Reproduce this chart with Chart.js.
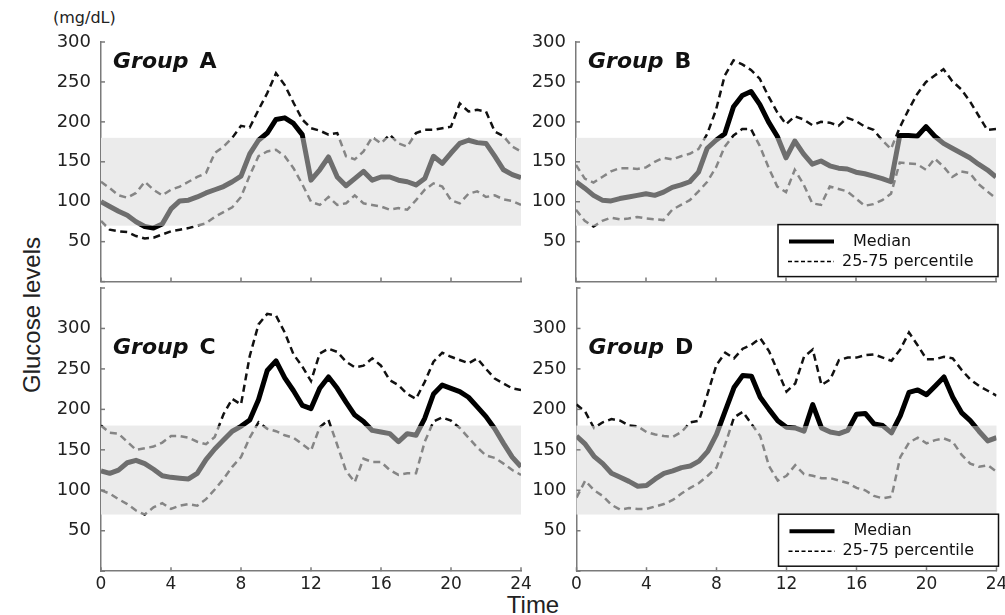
<!DOCTYPE html>
<html>
<head>
<meta charset="utf-8">
<script src="https://cdn.jsdelivr.net/npm/chart.js@4.4.1/dist/chart.umd.min.js"></script>
<style>
html,body{margin:0;padding:0;background:#fff;overflow:hidden;width:1005px;height:615px}
.p{position:absolute}
#unit{position:absolute;left:53px;top:8px;line-height:20px;font:16px "DejaVu Sans";color:#222}
#ylab{position:absolute;left:32px;top:315px;transform:translate(-50%,-50%) rotate(-90deg);font:24px "Liberation Sans";color:#222;white-space:nowrap}
#xlab{position:absolute;left:533px;top:591px;transform:translateX(-50%);font:24px "Liberation Sans";color:#222}
</style>
</head>
<body>
<div id="unit">(mg/dL)</div>
<div id="ylab">Glucose levels</div>
<div id="xlab">Time</div>
<div class="p" style="left:0;top:0;width:540px;height:288px"><canvas id="cA"></canvas></div>
<div class="p" style="left:470px;top:0;width:545px;height:288px"><canvas id="cB"></canvas></div>
<div class="p" style="left:0;top:280px;width:540px;height:315px"><canvas id="cC"></canvas></div>
<div class="p" style="left:470px;top:280px;width:545px;height:315px"><canvas id="cD"></canvas></div>
<script>
// --------- данные ---------
const HOURS=[0,0.5,1,1.5,2,2.5,3,3.5,4,4.5,5,5.5,6,6.5,7,7.5,8,8.5,9,9.5,10,10.5,11,11.5,12,
  12.5,13,13.5,14,14.5,15,15.5,16,16.5,17,17.5,18,18.5,19,19.5,20,20.5,21,21.5,22,22.5,23,23.5,24];
const X_TICKS=[0,4,8,12,16,20,24];
const Y_LABELS=[50,100,150,200,250,300];
const BAND_LO=70, BAND_HI=180;      // целевой диапазон

const A_MED=[100,94,88,83,75,69,67,72,91,101,102,106,111,115,119,125,132,160,177,186,203,205,198,184,127,140,156,131,120,129,138,127,131,131,127,125,121,129,157,148,161,173,177,174,173,157,140,134,130];
const A_HI =[125,117,108,105,111,125,115,108,115,119,125,131,136,161,169,180,195,193,215,236,261,246,224,203,192,189,184,186,157,153,163,181,173,184,173,169,186,190,190,192,194,223,213,215,213,188,182,169,163];
const A_LO =[76,65,63,62,57,54,55,59,63,65,67,70,73,81,87,93,106,133,157,163,165,157,142,122,100,96,106,96,98,108,98,96,94,90,92,90,102,115,123,119,102,98,110,113,106,108,103,101,96];

const B_MED=[125,117,108,102,101,104,106,108,110,108,112,118,121,125,137,167,177,185,219,233,238,222,200,182,155,176,160,147,151,145,142,141,137,135,132,129,125,183,183,182,194,182,173,167,161,155,147,140,131];
const B_HI =[146,129,124,131,138,142,142,141,143,150,155,153,157,160,166,185,215,258,277,272,265,254,232,212,197,207,203,196,200,199,195,205,201,194,190,177,166,193,215,235,250,258,266,251,241,226,208,190,191];
const B_LO =[90,76,69,76,80,78,79,81,79,78,77,90,96,102,113,125,143,169,183,191,191,170,143,119,112,140,122,98,96,119,116,113,104,95,97,102,110,149,148,147,140,154,144,131,138,136,122,113,104];

const C_MED=[124,121,125,134,137,133,126,118,116,115,114,121,138,151,162,173,179,187,212,248,260,239,223,205,201,226,240,226,209,193,185,174,172,170,160,170,168,189,219,230,226,222,215,203,191,176,158,141,129];
const C_HI =[180,171,170,160,150,152,154,159,167,167,165,160,157,166,194,213,206,266,305,318,316,295,268,253,235,269,275,271,259,252,254,263,254,236,230,219,213,234,259,270,265,261,257,263,250,238,232,226,224];
const C_LO =[100,96,89,83,75,70,79,84,77,81,83,81,89,101,114,129,141,165,184,176,173,168,165,157,149,178,187,156,124,110,139,135,135,125,119,121,121,160,185,190,186,177,165,153,143,140,133,125,119];

const D_MED=[167,157,142,133,121,116,111,105,106,114,121,124,128,130,136,148,169,198,227,242,241,215,200,186,178,177,173,206,177,172,170,174,194,195,182,180,171,192,221,224,218,229,240,215,196,186,173,161,165];
const D_HI =[206,197,177,184,188,186,180,179,172,169,167,166,172,184,186,220,255,270,263,275,280,288,272,247,222,232,265,274,230,237,261,264,264,267,268,264,260,274,295,279,262,262,265,263,249,237,229,223,217];
const D_LO =[91,112,100,93,82,76,78,77,77,80,83,88,96,103,109,118,128,157,190,197,182,167,130,112,118,131,120,118,115,115,112,109,103,100,93,90,92,141,159,165,158,162,164,160,144,133,129,131,123];

const LEG_MED='Median', LEG_PCT='25-75 percentile';

// --------- цвет линии: серый внутри диапазона, чёрный снаружи ---------
function bandColor(inC,outC){
  return function(ctx){
    const ch=ctx.chart, ca=ch.chartArea;
    if(!ca) return outC;
    const y=ch.scales.y;
    const f=p=>Math.min(1,Math.max(0,(p-ca.top)/(ca.bottom-ca.top)));
    const t=f(y.getPixelForValue(BAND_HI)), b=f(y.getPixelForValue(BAND_LO));
    const g=ch.ctx.createLinearGradient(0,ca.top,0,ca.bottom);
    g.addColorStop(0,outC); g.addColorStop(t,outC); g.addColorStop(t,inC);
    g.addColorStop(b,inC); g.addColorStop(b,outC); g.addColorStop(1,outC);
    return g;
  };
}

// --------- полоса, тики внутрь, подписи групп, легенда ---------
const decor={
  id:'decor',
  beforeDatasetsDraw(ch,args,o){
    const c=ch.ctx, x=ch.scales.x, y=ch.scales.y;
    const x0=x.getPixelForValue(0), x1=x.getPixelForValue(24);
    const y0=y.getPixelForValue(BAND_HI), y1=y.getPixelForValue(BAND_LO);
    c.save(); c.fillStyle='#ebebeb'; c.fillRect(x0,y0,x1-x0,y1-y0); c.restore();
  },
  afterDraw(ch,args,o){
    const c=ch.ctx, ca=ch.chartArea, x=ch.scales.x, y=ch.scales.y;
    c.save();
    c.strokeStyle='#7a7a7a'; c.lineWidth=1.5;
    x.ticks.forEach(t=>{const px=x.getPixelForValue(t.value);
      c.beginPath(); c.moveTo(px,ca.bottom); c.lineTo(px,ca.bottom-4); c.stroke();});
    y.ticks.forEach(t=>{const py=y.getPixelForValue(t.value);
      c.beginPath(); c.moveTo(ca.left,py); c.lineTo(ca.left+4,py); c.stroke();});
    // Group X
    const gy=y.getPixelForValue(268), gx=ca.left+12;
    c.fillStyle='#111'; c.textBaseline='alphabetic'; c.textAlign='left';
    c.font='italic bold 22px "DejaVu Sans"';
    c.fillText('Group',gx,gy);
    const w=c.measureText('Group').width;
    c.font='bold 22px "DejaVu Sans"';
    c.fillText(o.group,gx+w+11,gy);
    // легенда
    if(o.legend){
      const bl=ca.right-218, bt=ca.bottom-57, bw=220, bh=52;
      c.fillStyle='#fff'; c.fillRect(bl,bt,bw,bh);
      c.strokeStyle='#111'; c.lineWidth=1.5; c.strokeRect(bl,bt,bw,bh);
      c.strokeStyle='#000'; c.lineWidth=4;
      c.beginPath(); c.moveTo(bl+11,bt+17); c.lineTo(bl+56,bt+17); c.stroke();
      c.lineWidth=1.5; c.setLineDash([4,2.5]);
      c.beginPath(); c.moveTo(bl+10,bt+37); c.lineTo(bl+56,bt+37); c.stroke();
      c.setLineDash([]);
      c.fillStyle='#111'; c.font='16px "DejaVu Sans"'; c.textBaseline='middle';
      c.fillText(LEG_MED,bl+75,bt+17);
      c.fillText(LEG_PCT,bl+64,bt+37);
    }
    c.restore();
  }
};

// --------- панель ---------
function panel(id,group,med,hi,lo,yMax,showX,legend,yW,padR,padT,xH){
  const pts=arr=>HOURS.map((h,i)=>({x:h,y:arr[i]}));
  const dash={borderWidth:2.5,borderDash:[7,4.5],borderColor:bandColor('#858585','#111'),pointRadius:0,tension:0,fill:false};
  return new Chart(document.getElementById(id),{
    type:'line',
    data:{datasets:[
      {label:LEG_MED,data:pts(med),borderWidth:5,borderColor:bandColor('#6e6e6e','#000'),pointRadius:0,tension:0,fill:false,borderJoinStyle:'round'},
      Object.assign({label:'75',data:pts(hi)},dash),
      Object.assign({label:'25',data:pts(lo)},dash)
    ]},
    options:{
      responsive:true,maintainAspectRatio:false,animation:false,
      layout:{padding:{left:0,top:padT,right:padR,bottom:0}},
      plugins:{legend:{display:false},tooltip:{enabled:false},decor:{group:group,legend:legend}},
      scales:{
        x:{type:'linear',min:0,max:24,
          afterBuildTicks:s=>{s.ticks=X_TICKS.map(v=>({value:v}));},
          afterFit:s=>{s.height=xH;s.paddingLeft=0;s.paddingRight=0;},
          grid:{display:true,drawOnChartArea:false,drawTicks:false},
          border:{display:true,color:'#7a7a7a',width:1.5},
          ticks:{maxRotation:0,autoSkip:false,padding:3,color:'#222',font:{family:'DejaVu Sans',size:17},
            callback:v=>showX?v:''}},
        y:{min:0,max:yMax,
          ticks:{stepSize:50,padding:10,color:'#222',font:{family:'DejaVu Sans',size:18},
            callback:v=>Y_LABELS.includes(v)?v:''},
          afterFit:s=>{s.width=yW;s.paddingTop=0;s.paddingBottom=0;},
          grid:{display:true,drawOnChartArea:false,drawTicks:false},
          border:{display:true,color:'#7a7a7a',width:1.5}}
      }
    },
    plugins:[decor]
  });
}

// --------- старт ---------
panel('cA','A',A_MED,A_HI,A_LO,300,false,false,101,19,42,6.4);
panel('cB','B',B_MED,B_HI,B_LO,300,false,true,106,19,42,6.4);
panel('cC','C',C_MED,C_HI,C_LO,350,true,false,101,19,8,23.8);
panel('cD','D',D_MED,D_HI,D_LO,350,true,true,106.5,18.5,8,23.8);
</script>
</body>
</html>
